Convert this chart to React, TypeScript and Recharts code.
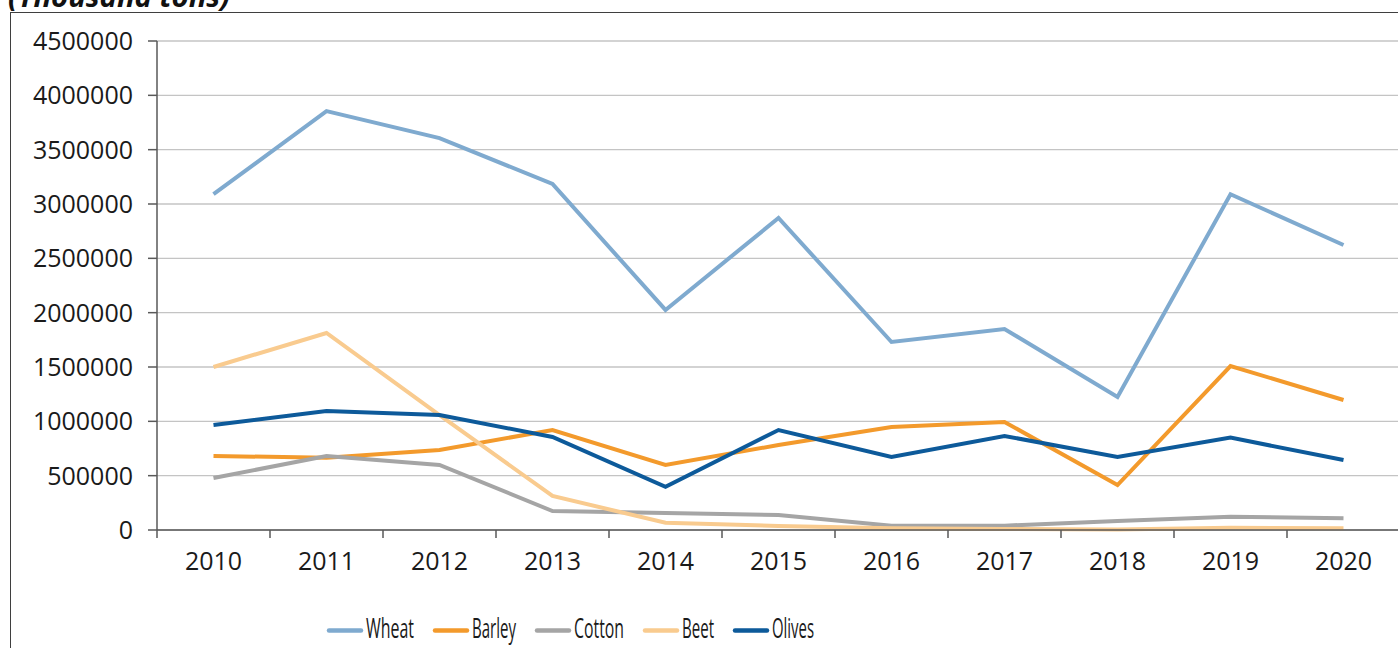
import React from "react";
import { LineChart, Line, XAxis, YAxis, CartesianGrid } from "recharts";

const years = ["2010", "2011", "2012", "2013", "2014", "2015", "2016", "2017", "2018", "2019", "2020"];
const wheat = [3090000, 3855000, 3607000, 3184000, 2025000, 2871000, 1730000, 1850000, 1224000, 3090000, 2623000];
const barley = [681000, 665000, 736000, 920000, 598000, 782000, 948000, 994000, 414000, 1509000, 1196000];
const cotton = [478000, 681000, 598000, 175000, 156000, 138000, 40000, 40000, 83000, 122000, 108000];
const beet = [1500000, 1813000, 1058000, 313000, 67000, 37000, 15000, 10000, 5000, 20000, 15000];
const olives = [966000, 1095000, 1058000, 856000, 398000, 920000, 672000, 865000, 672000, 850000, 644000];
const yTicks = [0, 500000, 1000000, 1500000, 2000000, 2500000, 3000000, 3500000, 4000000, 4500000];
const unitLabel = "(Thousand tons)";

const series = [
  { key: "Wheat", values: wheat, color: "#7FAACF" },
  { key: "Barley", values: barley, color: "#F39A2C" },
  { key: "Cotton", values: cotton, color: "#A5A5A5" },
  { key: "Beet", values: beet, color: "#F9CB8F" },
  { key: "Olives", values: olives, color: "#0D5A9A" },
];

// legend text widths (condensed face) — layout only
const legendTextWidths = [48, 44, 50, 32, 42];

const data = years.map((y, i) => {
  const row: Record<string, any> = { year: y };
  series.forEach((s) => (row[s.key] = s.values[i]));
  return row;
});

const FONT = "'Open Sans', 'Noto Sans', sans-serif";

const XTick = (props: any) => {
  const { x, y, payload } = props;
  const off = payload && typeof payload.offset === "number" ? payload.offset : 56.5;
  return (
    <g>
      <line x1={x - off} x2={x - off} y1={y - 8} y2={y} stroke="#595959" strokeWidth={1.5} />
      <text x={x} y={y + 32} textAnchor="middle" fontSize={25} fontFamily={FONT} fill="#1a1a1a">
        {payload.value}
      </text>
    </g>
  );
};

function LegendSvg() {
  const items: React.ReactNode[] = [];
  let x = 327;
  series.forEach((s, i) => {
    const tw = legendTextWidths[i];
    items.push(
      <g key={s.key}>
        <line x1={x + 2} x2={x + 34} y1={17.5} y2={17.5} stroke={s.color} strokeWidth={4.5} strokeLinecap="round" />
        <text
          x={x + 39}
          y={25}
          fontSize={27}
          fontFamily={FONT}
          fill="#1a1a1a"
          textLength={tw}
          lengthAdjust="spacingAndGlyphs"
        >
          {s.key}
        </text>
      </g>
    );
    x += 39 + tw + 19;
  });
  return (
    <svg width={1398} height={35} style={{ position: "absolute", left: 0, top: 613 }}>
      {items}
    </svg>
  );
}

export default function App() {
  return (
    <div
      style={{
        position: "absolute",
        left: 0,
        top: 0,
        width: 1398,
        height: 648,
        overflow: "hidden",
        background: "#fff",
      }}
    >
      <div
        style={{
          position: "absolute",
          left: 10,
          top: 12,
          width: 1500,
          height: 700,
          border: "1.5px solid #3f3f3f",
          boxSizing: "border-box",
        }}
      />
      <svg width={400} height={20} style={{ position: "absolute", left: 0, top: 0 }}>
        <text
          x={8}
          y={7}
          fontSize={29}
          fontWeight={700}
          fontStyle="italic"
          fontFamily={FONT}
          fill="#111"
          textLength={222}
          lengthAdjust="spacingAndGlyphs"
        >
          {unitLabel}
        </text>
      </svg>
      <div style={{ position: "absolute", left: 0, top: 0 }}>
        <LineChart width={1400} height={648} data={data} margin={{ top: 41, right: 0, bottom: 0, left: 0 }}>
          <CartesianGrid vertical={false} stroke="#C4C4C4" strokeWidth={1.4} />
          <XAxis
            dataKey="year"
            scale="band"
            height={118}
            tickLine={false}
            tickSize={8}
            tickMargin={0}
            interval={0}
            axisLine={{ stroke: "#595959", strokeWidth: 1.5 }}
            tick={<XTick />}
          />
          <YAxis
            width={157}
            domain={[0, 4500000]}
            ticks={yTicks}
            interval={0}
            tickSize={9}
            tickMargin={15}
            axisLine={{ stroke: "#595959", strokeWidth: 1.5 }}
            tickLine={{ stroke: "#595959", strokeWidth: 1.5 }}
            tick={{ fontSize: 25, fontFamily: FONT, fill: "#1a1a1a" }}
          />
          {series.map((s) => (
            <Line
              key={s.key}
              type="linear"
              dataKey={s.key}
              stroke={s.color}
              strokeWidth={4}
              dot={false}
              activeDot={false}
              isAnimationActive={false}
            />
          ))}
        </LineChart>
      </div>
      <LegendSvg />
    </div>
  );
}
